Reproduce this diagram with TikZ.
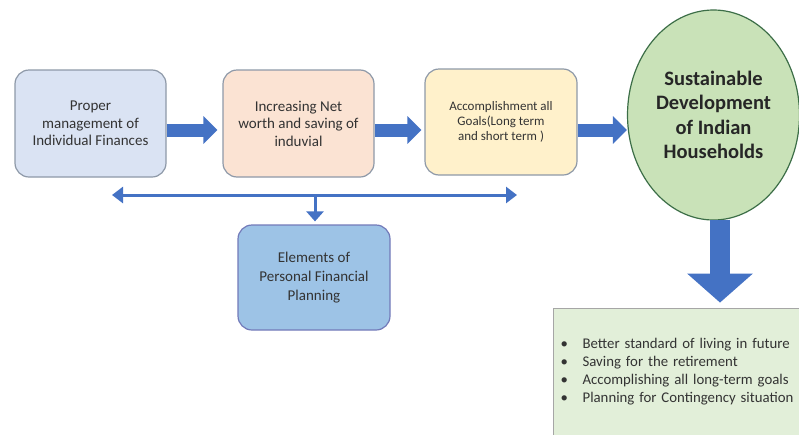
\documentclass[tikz,border=0pt]{standalone}
\usepackage{fontspec}
\setmainfont{Carlito}
\usetikzlibrary{arrows.meta,shapes.geometric,calc}
\definecolor{arrowblue}{HTML}{4472C4}
\definecolor{fillA}{HTML}{DAE3F3}
\definecolor{fillB}{HTML}{FBE3D3}
\definecolor{fillC}{HTML}{FFF1CB}
\definecolor{fillD}{HTML}{9DC3E6}
\definecolor{fillE}{HTML}{C9E2B8}
\definecolor{fillF}{HTML}{E2EFD9}
\definecolor{edgegray}{HTML}{8E99A8}
\definecolor{txtgray}{HTML}{333333}
\tikzset{
  roundbox/.style={draw=edgegray, line width=1.2pt, rounded corners=14pt,
    align=center, text=txtgray, inner sep=2pt},
  bigarrow/.style={draw=arrowblue, line width=13pt,
    -{Triangle[length=14pt,width=27pt]}},
  downarrow/.style={draw=arrowblue, line width=20pt,
    -{Triangle[length=29pt,width=64pt]}},
  thinarrow/.style={draw=arrowblue, line width=3pt,
    {Triangle[length=11pt,width=16pt]}-{Triangle[length=11pt,width=16pt]}},
  stubarrow/.style={draw=arrowblue, line width=3pt,
    -{Triangle[length=10pt,width=17pt]}},
}
\begin{document}
\begin{tikzpicture}[x=1pt,y=-1pt]
\useasboundingbox (0,0) rectangle (799,434);
\clip (0,0) rectangle (799,434);

\node[roundbox, fill=fillA, minimum width=151pt, minimum height=107pt,
  font=\fontsize{15}{17.5}\selectfont] (b1) at (90.5,123.5)
  {Proper\\management of\\Individual Finances};
\node[roundbox, fill=fillB, minimum width=151pt, minimum height=107pt,
  font=\fontsize{15}{17.5}\selectfont] (b2) at (298.5,123.5)
  {Increasing Net\\worth and saving of\\induvial};
\node[roundbox, fill=fillC, minimum width=152pt, minimum height=106pt,
  font=\fontsize{13}{15}\selectfont] (b3) at (501,122)
  {Accomplishment all\\Goals(Long term\\and short term )};
\node[roundbox, fill=fillD, draw=edgegray!80!blue, minimum width=152pt, minimum height=105pt,
  font=\fontsize{15}{19}\selectfont] (b4) at (314,277.5)
  {Elements of\\Personal Financial\\Planning};
\node[ellipse, draw=edgegray!70!green!60!black, line width=1.2pt, fill=fillE,
  minimum width=170pt, minimum height=210pt, align=center,
  font=\bfseries\fontsize{20.5}{24.5}\selectfont, text=black!85] (ell) at (713.5,115)
  {Sustainable\\Development\\of Indian\\Households};
\node[draw=black!35, line width=1.2pt, fill=fillF, anchor=north west,
  minimum width=262pt, minimum height=127pt, inner xsep=7pt,
  text width=248pt, align=left, text=txtgray,
  font=\fontsize{14.8}{18}\selectfont] (list) at (553,308)
  {\makebox[22pt][l]{•}Better standard of living in future\\
   \makebox[22pt][l]{•}Saving for the retirement\\
   \makebox[22pt][l]{•}Accomplishing all long-term goals\\
   \makebox[22pt][l]{•}Planning for Contingency situation};

% thick arrows
\draw[bigarrow] ($(b1.east)+(0,6.5)$) -- ($(b2.west)+(-5,6.5)$);
\draw[bigarrow] ($(b2.east)+(0,6.5)$) -- ($(b2.east -| b3.west)+(-3,6.5)$);
\draw[bigarrow] ($(b3.east)+(0,8)$) -- ($(ell.west)+(0,15)$);
\draw[downarrow] ($(ell.south)+(6.5,-1)$) -- ($(ell.south)+(6.5,82)$);

% thin arrows
\coordinate (L) at (112,195);
\coordinate (R) at (517,195);
\coordinate (M) at (315,195);
\draw[thinarrow] (L) -- (R);
\draw[stubarrow] (M) -- ($(b4.north)+(1,-3)$);
\end{tikzpicture}
\end{document}
